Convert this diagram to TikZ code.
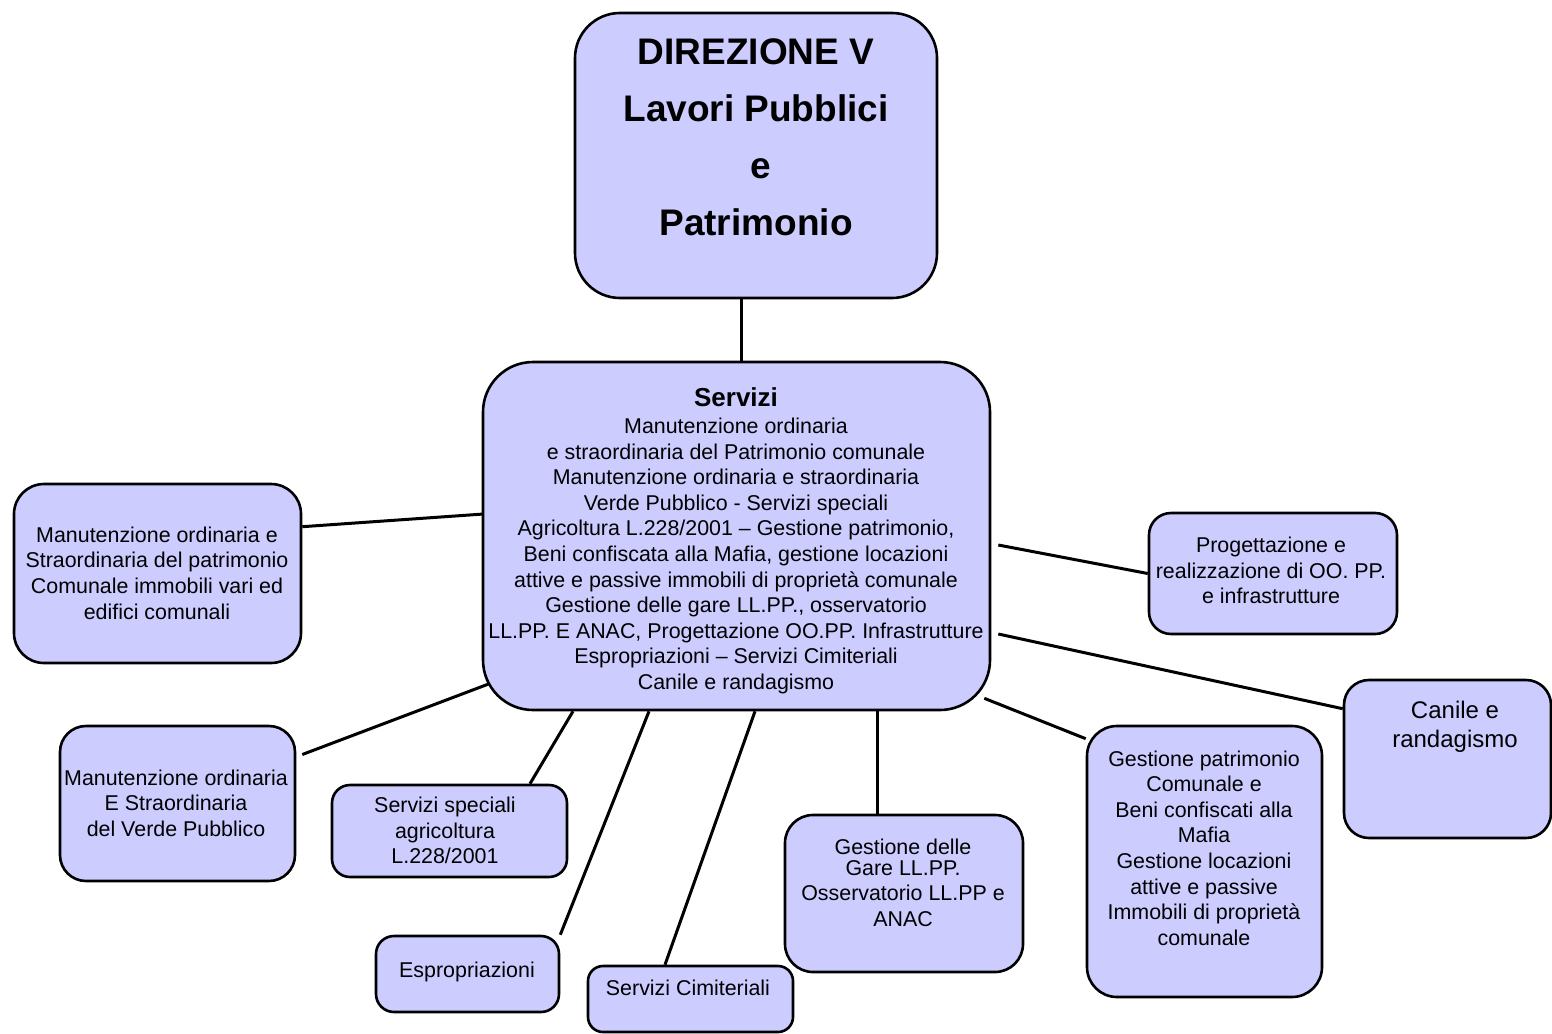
\documentclass[tikz,border=0pt]{standalone}
\usepackage{fontspec}
\setmainfont{Liberation Sans}
\usetikzlibrary{calc}
\pgfdeclarelayer{bg}
\pgfsetlayers{bg,main}
\definecolor{boxfill}{RGB}{204,204,255}
\tikzset{
  unit/.style={draw=black, line width=2.6pt, fill=boxfill, inner sep=0pt, rounded corners=#1},
  unit/.default=28pt,
  link/.style={draw=black, line width=3pt},
  body/.style={align=center, inner sep=0pt, font=\fontsize{21.4}{25.6}\selectfont},
}
\begin{document}
\begin{tikzpicture}[x=1pt, y=-1pt]
\useasboundingbox (0,0) rectangle (1552,1033);

% boxes
\node[unit=45pt, minimum width=362pt, minimum height=285pt] (top) at (756,155.5) {};
\node[unit=50pt, minimum width=507pt, minimum height=348pt] (serv) at (736.5,536) {};
\node[unit=30pt, minimum width=287pt, minimum height=179pt] (l1) at (157.5,573.5) {};
\node[unit=26pt, minimum width=235pt, minimum height=155pt] (l2) at (177.5,803.5) {};
\node[unit=18pt, minimum width=235pt, minimum height=92pt] (ss) at (449.5,831) {};
\node[unit=18pt, minimum width=183pt, minimum height=76pt] (esp) at (467.5,974) {};
\node[unit=15pt, minimum width=205pt, minimum height=66pt] (cim) at (690.5,999) {};
\node[unit=28pt, minimum width=238pt, minimum height=157pt] (gare) at (904,893.5) {};
\node[unit=30pt, minimum width=235pt, minimum height=271pt] (gp) at (1204.5,861.5) {};
\node[unit=22pt, minimum width=248pt, minimum height=121pt] (prog) at (1273,573.5) {};
\node[unit=25pt, minimum width=207pt, minimum height=158pt] (can) at (1447.5,759) {};

% texts
\node[align=center, inner sep=0pt, font=\fontsize{37}{57}\selectfont\bfseries] (t-top) at (756,137)
  {DIREZIONE V\\Lavori Pubblici\\\hspace*{10pt}e\\Patrimonio};
\node[body] (t-serv) at (736,541)
  {{\fontsize{26}{28}\selectfont\bfseries Servizi}\\[1pt]
   Manutenzione ordinaria\\
   e straordinaria del Patrimonio comunale\\
   Manutenzione ordinaria e straordinaria\\
   Verde Pubblico - Servizi speciali\\
   Agricoltura L.228/2001 -- Gestione patrimonio,\\
   Beni confiscata alla Mafia, gestione locazioni\\
   attive e passive immobili di proprietà comunale\\
   Gestione delle gare LL.PP., osservatorio\\
   LL.PP. E ANAC, Progettazione OO.PP. Infrastrutture\\
   Espropriazioni -- Servizi Cimiteriali\\
   Canile e randagismo};
\node[body] (t-l1) at (157,573)
  {Manutenzione ordinaria e\\Straordinaria del patrimonio\\Comunale immobili vari ed\\edifici comunali};
\node[body] (t-l2) at (176,803)
  {Manutenzione ordinaria\\E Straordinaria\\del Verde Pubblico};
\node[body] (t-ss) at (445,830.5)
  {Servizi speciali\\agricoltura\\L.228/2001};
\node[body] (t-esp) at (467,972) {Espropriazioni};
\node[body] (t-cim) at (688,988) {Servizi Cimiteriali};
\node[body] (t-gare) at (903,882.5)
  {Gestione delle\\[-4.5pt]Gare LL.PP.\\Osservatorio LL.PP e\\ANAC};
\node[body] (t-gp) at (1204,848)
  {Gestione patrimonio\\Comunale e\\Beni confiscati alla\\Mafia\\Gestione locazioni\\attive e passive\\Immobili di proprietà\\comunale};
\node[body] (t-prog) at (1271,570.5)
  {Progettazione e\\realizzazione di OO. PP.\\e infrastrutture};
\node[align=center, inner sep=0pt, font=\fontsize{24}{29}\selectfont] (t-can) at (1455,726.5)
  {Canile e\\randagismo};

% connectors, drawn beneath the boxes
\begin{pgfonlayer}{bg}
\draw[link] ($(top.south)+(-15,0)$) -- ($(serv.north)+(4.5,0)$);
\draw[link] ($(l1.north east)+(0,44)$) -- ($(serv.west)+(2,-22)$);
\draw[link] ($(l2.east)+(6,-49)$) -- ($(serv.south west)+(14,-30)$);
\draw[link] ($(ss.north)+(80.5,0)$) -- ($(serv.south)+(-163.5,0)$);
\draw[link] (esp.north east) -- ($(serv.south)+(-87.5,0)$);
\draw[link] ($(cim.north)+(-25.5,0)$) -- ($(serv.south)+(18.5,0)$);
\draw[link] ($(gare.north)+(-27,0)$) -- ($(serv.south)+(140.5,0)$);
\draw[link] ($(gp.north west)+(0,14)$) -- ($(serv.south east)+(-7,-13)$);
\draw[link] ($(can.north west)+(0,30)$) -- ($(serv.east)+(7,98)$);
\draw[link] (prog.west) -- ($(serv.east)+(7,9)$);
\end{pgfonlayer}
\end{tikzpicture}
\end{document}
